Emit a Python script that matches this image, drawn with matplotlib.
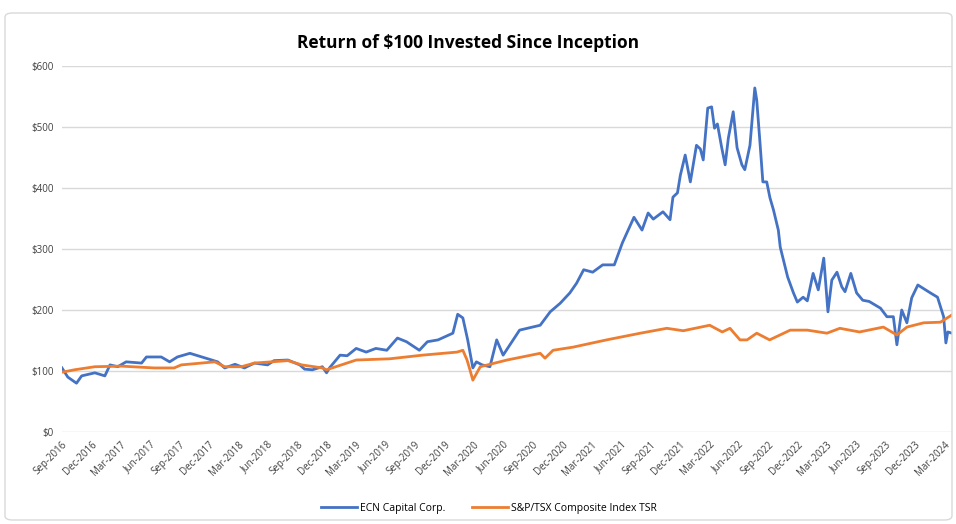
import matplotlib
matplotlib.use("Agg")
import matplotlib.pyplot as plt
import pandas as pd
from matplotlib.patches import FancyBboxPatch

title = "Return of $100 Invested Since Inception"
series_names = ["ECN Capital Corp.", "S&P/TSX Composite Index TSR"]

ecn_dates = ["2016-09-01", "2016-09-19", "2016-10-16", "2016-11-01", "2016-12-12", "2017-01-12",
             "2017-01-28", "2017-02-21", "2017-03-19", "2017-05-06", "2017-05-21", "2017-07-06",
             "2017-08-01", "2017-08-25", "2017-10-03", "2017-10-28", "2017-12-10", "2017-12-28",
             "2018-01-19", "2018-02-20", "2018-03-21", "2018-04-21", "2018-06-01", "2018-06-21",
             "2018-08-03", "2018-09-09", "2018-09-24", "2018-10-18", "2018-11-18", "2018-12-01",
             "2018-12-10", "2019-01-12", "2019-02-03", "2019-03-03", "2019-04-03", "2019-05-03",
             "2019-06-06", "2019-07-09", "2019-08-06", "2019-09-15", "2019-10-10", "2019-11-12",
             "2019-12-28", "2020-01-12", "2020-01-28", "2020-02-12", "2020-02-28", "2020-03-10",
             "2020-03-28", "2020-04-21", "2020-05-12", "2020-06-01", "2020-07-22", "2020-09-24",
             "2020-10-25", "2020-11-25", "2020-12-25", "2021-01-15", "2021-02-06", "2021-03-06",
             "2021-04-06", "2021-05-12", "2021-06-06", "2021-07-12", "2021-08-06", "2021-08-25",
             "2021-09-10", "2021-10-10", "2021-11-01", "2021-11-10", "2021-11-24", "2021-12-03",
             "2021-12-18", "2022-01-03", "2022-01-22", "2022-02-03", "2022-02-12", "2022-02-26",
             "2022-03-10", "2022-03-19", "2022-03-28", "2022-04-10", "2022-04-21", "2022-05-01",
             "2022-05-16", "2022-05-28", "2022-06-12", "2022-06-21", "2022-07-07", "2022-07-22",
             "2022-07-28", "2022-08-07", "2022-08-16", "2022-08-28", "2022-09-07", "2022-09-18",
             "2022-10-03", "2022-10-09", "2022-11-01", "2022-11-19", "2022-12-01", "2022-12-19",
             "2023-01-01", "2023-01-19", "2023-02-04", "2023-02-21", "2023-03-06", "2023-03-18",
             "2023-04-03", "2023-04-18", "2023-04-28", "2023-05-16", "2023-06-03", "2023-06-22",
             "2023-07-12", "2023-08-16", "2023-09-05", "2023-09-25", "2023-10-06", "2023-10-21",
             "2023-11-06", "2023-11-21", "2023-12-10", "2024-01-18", "2024-02-09", "2024-02-28",
             "2024-03-06", "2024-03-12", "2024-03-25"]
ecn_values = [105, 90, 80, 92, 97, 92,
              110, 107, 115, 113, 123, 123,
              115, 123, 129, 125, 118, 115,
              105, 111, 105, 113, 110, 117,
              118, 110, 103, 102, 107, 97,
              105, 126, 125, 137, 131, 137,
              134, 154, 148, 134, 148, 151,
              162, 193, 187, 151, 105, 115,
              110, 107, 151, 126, 167, 175,
              197, 211, 228, 244, 266, 262,
              274, 274, 310, 352, 331, 359,
              349, 361, 348, 385, 392, 421,
              454, 410, 470, 464, 446, 531,
              533, 498, 505, 467, 438, 482,
              525, 466, 438, 430, 470, 564,
              544, 475, 410, 410, 384, 364,
              331, 303, 254, 228, 213, 221,
              215, 260, 233, 285, 197, 249,
              262, 238, 230, 260, 228, 216,
              214, 203, 189, 189, 143, 200,
              179, 220, 241, 228, 221, 189,
              146, 164, 162]

tsx_dates = ["2016-09-01", "2016-10-10", "2016-12-12", "2017-03-04", "2017-06-15", "2017-08-15",
             "2017-09-06", "2017-12-19", "2018-01-19", "2018-03-12", "2018-04-21", "2018-08-03",
             "2018-09-15", "2018-11-18", "2018-12-01", "2019-03-03", "2019-06-15", "2019-09-25",
             "2020-01-10", "2020-01-28", "2020-02-10", "2020-02-19", "2020-02-28", "2020-03-22",
             "2020-06-13", "2020-09-24", "2020-10-09", "2020-11-03", "2021-01-03", "2021-04-18",
             "2021-08-01", "2021-10-22", "2021-12-12", "2022-03-04", "2022-04-12", "2022-05-06",
             "2022-06-06", "2022-06-28", "2022-07-28", "2022-09-06", "2022-11-09", "2023-01-01",
             "2023-03-03", "2023-04-12", "2023-06-12", "2023-08-25", "2023-10-06", "2023-11-06",
             "2023-12-28", "2024-02-18", "2024-03-25"]
tsx_values = [98, 102, 107, 108, 105, 105,
              110, 115, 107, 107, 113, 117,
              110, 105, 102, 118, 120, 126,
              131, 134, 118, 102, 85, 107,
              118, 129, 121, 134, 139, 151,
              162, 170, 166, 175, 164, 170,
              151, 151, 162, 151, 167, 167,
              162, 170, 164, 172, 159, 172,
              179, 180, 192]

tick_dates = pd.date_range("2016-09-01", "2024-03-01", freq="3MS")
tick_labels = [d.strftime("%b-%Y") for d in tick_dates]
y_ticks = [0, 100, 200, 300, 400, 500, 600]
y_labels = ["$0", "$100", "$200", "$300", "$400", "$500", "$600"]

blue = "#4472C4"
orange = "#ED7D31"
plt.rcParams["font.family"] = ["Open Sans", "DejaVu Sans"]

W, H = 956, 524
fig = plt.figure(figsize=(W / 100, H / 100), dpi=100)
fig.patch.set_facecolor("white")

border = FancyBboxPatch((5 / W, 4 / H), (W - 4) / W - 5 / W, (H - 13) / H - 4 / H,
                        boxstyle="round,pad=0,rounding_size=0.008", transform=fig.transFigure,
                        facecolor="none", edgecolor="#d9d9d9", lw=1.0)
fig.patches.append(border)

ax = fig.add_axes([62 / W, 1 - 432 / H, (952 - 62) / W, (432 - 66) / H])
ax.plot(pd.to_datetime(ecn_dates), ecn_values, color=blue, lw=2.0, label=series_names[0],
        solid_joinstyle="round")
ax.plot(pd.to_datetime(tsx_dates), tsx_values, color=orange, lw=2.0, label=series_names[1],
        solid_joinstyle="round")

ax.set_xlim(pd.Timestamp("2016-09-01"), pd.Timestamp("2024-03-25"))
ax.set_ylim(0, 600)
ax.set_yticks(y_ticks)
ax.set_yticklabels(y_labels, fontsize=7, color="#404040")
ax.set_xticks(tick_dates)
ax.set_xticklabels(tick_labels, rotation=45, ha="right", rotation_mode="anchor",
                   fontsize=7, color="#404040")
ax.tick_params(axis="both", length=0)
ax.tick_params(axis="y", pad=6)
ax.tick_params(axis="x", pad=5)
for s in ax.spines.values():
    s.set_visible(False)
ax.grid(axis="y", color="#d9d9d9", lw=1.0)
ax.set_axisbelow(True)

fig.text(468 / W, 1 - 43 / H, title, ha="center", va="center", fontsize=12.5,
         fontweight="bold", color="#000000")

fig.legend(loc="center", bbox_to_anchor=(489 / W, 1 - 508 / H), ncol=2, frameon=False,
           fontsize=7.5, handlelength=3.5, columnspacing=2.5, handletextpad=0.3)

fig.savefig("out.png", dpi=100, facecolor="white")
